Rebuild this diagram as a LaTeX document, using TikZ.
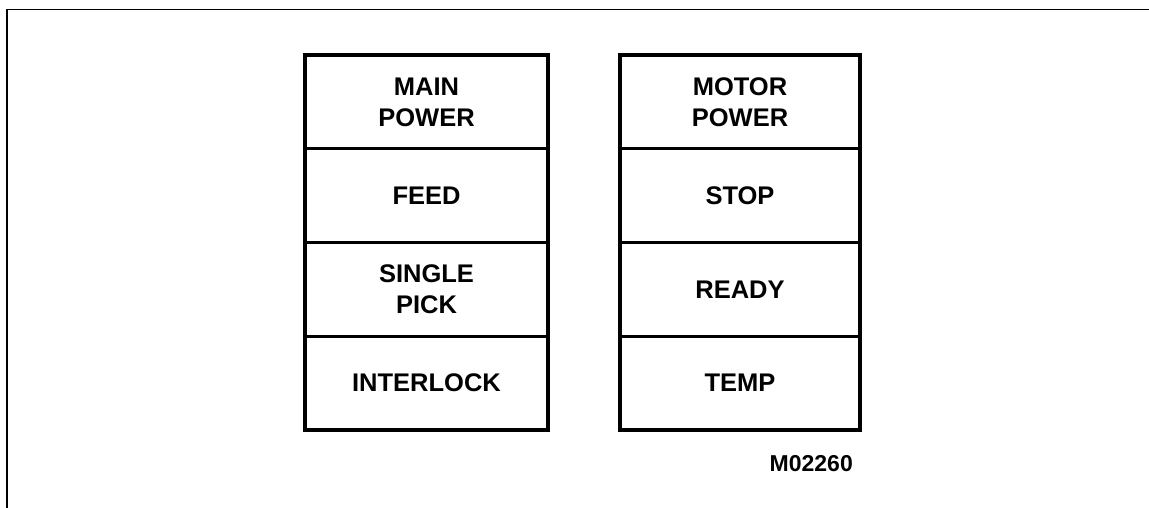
\documentclass[tikz,border=0pt]{standalone}
\usepackage{fontspec}
\setmainfont{Liberation Sans}
\usetikzlibrary{positioning}

\begin{document}
\begin{tikzpicture}[x=1pt, y=-1pt, node distance=0pt,
  cell/.style={draw, line width=3.5pt, outer sep=0pt, minimum width=243pt, minimum height=93.75pt, align=center, inner sep=2pt, font=\bfseries\fontsize{25.5}{31}\selectfont},
  rcell/.style={cell, minimum width=240pt},
  tag/.style={inner sep=0pt, font=\bfseries\fontsize{23}{27}\selectfont},
  frame/.style={line width=1.6pt}]
\useasboundingbox (0,0) rectangle (1149,508);
\draw[frame] (7,508) -- (7,9.5) -- (1149,9.5);
% left column
\node[cell, anchor=north west] (mainpwr) at (305,55) {MAIN\\POWER};
\node[cell, below=of mainpwr] (feed) {FEED};
\node[cell, below=of feed] (single) {SINGLE\\PICK};
\node[cell, below=of single] (lock) {INTERLOCK};
% right column
\node[rcell, anchor=north west] (motorpwr) at (620,55) {MOTOR\\POWER};
\node[rcell, below=of motorpwr] (stop) {STOP};
\node[rcell, below=of stop] (ready) {READY};
\node[rcell, below=of ready] (temp) {TEMP};
\node[tag, below left=25pt and 7pt of temp.south east] (fig) {M02260};
\end{tikzpicture}
\end{document}
